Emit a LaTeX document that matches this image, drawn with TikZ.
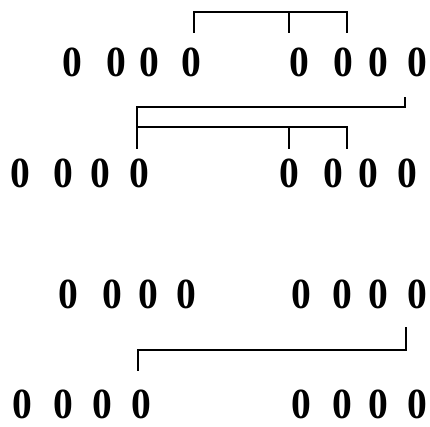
\documentclass[tikz,border=0pt]{standalone}
\usepackage{fontspec}
\setmainfont{Liberation Serif}
\begin{document}
\begin{tikzpicture}[x=1pt,y=-1pt,
  dig/.style={inner sep=0pt,font=\fontsize{43}{43}\selectfont\bfseries,xscale=0.92},
  brk/.style={line width=2.7pt,line cap=rect}]
\useasboundingbox (0,0) rectangle (430,426);
% row 1
\foreach \x [count=\i] in {72,116,149,191,299,343,378,417}
  \node[dig] (a\i) at (\x,62) {0};
% row 2
\foreach \x [count=\i] in {20,63,100,139,289,333,368,407}
  \node[dig] (b\i) at (\x,173) {0};
% row 3
\foreach \x [count=\i] in {68,112,148,186,301,342,378,417}
  \node[dig] (c\i) at (\x,294) {0};
% row 4
\foreach \x [count=\i] in {22,63,102,141,301,342,378,417}
  \node[dig] (d\i) at (\x,404) {0};
% bracket ends
\coordinate (p1) at (194,32);
\coordinate (p2) at (289,32);
\coordinate (p3) at (347,32);
\coordinate (q1) at (405,98);
\coordinate (q2) at (137,148);
\coordinate (r2) at (289,148);
\coordinate (r3) at (347,148);
\coordinate (s1) at (406,328);
\coordinate (s2) at (138,370);
% bracket 1
\draw[brk] (p1) -- ++(0,-20) -| (p3);
\draw[brk] (p2) -- ++(0,-20);
% bracket 2
\draw[brk] (q1) -- ++(0,9) -| (q2);
% bracket 3
\draw[brk] (137,127) -| (r3);
\draw[brk] (r2) -- ++(0,-21);
% bracket 4
\draw[brk] (s1) -- ++(0,22) -| (s2);
\end{tikzpicture}
\end{document}
